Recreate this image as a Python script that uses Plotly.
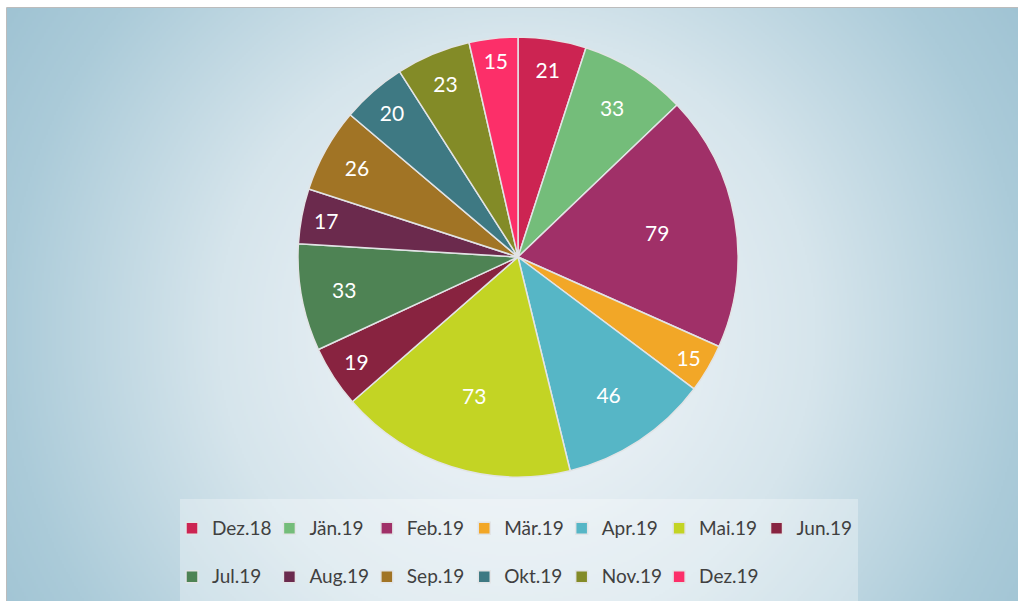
import base64
import struct
import zlib

import numpy as np
import plotly.graph_objects as go

# ---- data ----
months = ["Dez.18", "Jän.19", "Feb.19", "Mär.19", "Apr.19", "Mai.19", "Jun.19",
          "Jul.19", "Aug.19", "Sep.19", "Okt.19", "Nov.19", "Dez.19"]
counts = [21, 33, 79, 15, 46, 73, 19, 33, 17, 26, 20, 23, 15]
slice_colors = ["#cc2452", "#74bd7a", "#a03068", "#f2a727", "#56b6c6", "#c3d424", "#882340",
                "#4e8354", "#6b2a4d", "#a17425", "#3e7983", "#838b27", "#fc2f69"]

# ---- layout geometry (pixels) ----
W, H = 1018, 601
ML, MR, MT, MB = 153, 135, 37, 124
PW, PH = W - ML - MR, H - MT - MB


def px2x(px):
    return (px - ML) / PW


def py2y(py):
    return (H - MB - py) / PH


# ---- radial gradient background as an inline PNG ----
def make_png(arr):
    h, w, _ = arr.shape
    raw = b"".join(b"\x00" + arr[i].tobytes() for i in range(h))

    def chunk(t, d):
        return struct.pack(">I", len(d)) + t + d + struct.pack(">I", zlib.crc32(t + d) & 0xffffffff)

    return (b"\x89PNG\r\n\x1a\n"
            + chunk(b"IHDR", struct.pack(">IIBBBBB", w, h, 8, 2, 0, 0, 0))
            + chunk(b"IDAT", zlib.compress(raw, 9))
            + chunk(b"IEND", b""))


def hex2rgb(h):
    h = h.lstrip("#")
    return [int(h[i:i + 2], 16) for i in (0, 2, 4)]


bx0, by0 = 7, 8
gw, gh = (W - bx0) // 2, (H - by0) // 2
gx = bx0 + np.arange(gw) * 2
gy = by0 + np.arange(gh) * 2
XX, YY = np.meshgrid(gx, gy)
dist = np.sqrt((XX - 515.0) ** 2 + (YY - 330.0) ** 2)
stops = [0, 150, 300, 510, 640]
stop_cols = np.array([hex2rgb(c) for c in ["#eef4f8", "#e7eff4", "#d6e5ec", "#abcbd9", "#9bc0d1"]], float)
img = np.zeros((gh, gw, 3))
for k in range(3):
    img[:, :, k] = np.interp(dist, stops, stop_cols[:, k])
png = make_png(np.clip(img, 0, 255).astype(np.uint8))
bg_src = "data:image/png;base64," + base64.b64encode(png).decode()

legend_labels = ['<span style="font-size:19px;baseline-shift:7px">%s</span>' % m for m in months]

fig = go.Figure(go.Pie(
    labels=legend_labels,
    values=counts,
    text=[str(v) for v in counts],
    textinfo="text",
    sort=False,
    direction="clockwise",
    rotation=0,
    marker=dict(colors=slice_colors, line=dict(color="#e2e4e6", width=1.5)),
    textposition="inside",
    insidetextorientation="horizontal",
    textfont=dict(color="white", size=21, family="Lato"),
    hoverinfo="skip",
))

fig.update_layout(
    width=W, height=H,
    margin=dict(l=ML, r=MR, t=MT, b=MB, autoexpand=False),
    paper_bgcolor="white",
    plot_bgcolor="rgba(0,0,0,0)",
    font=dict(family="Lato", color="#404040"),
    images=[dict(source=bg_src, xref="paper", yref="paper",
                 x=px2x(bx0), y=py2y(by0), sizex=(W - bx0) / PW, sizey=(H - by0) / PH,
                 xanchor="left", yanchor="top", sizing="stretch", layer="below")],
    shapes=[dict(type="rect", xref="paper", yref="paper",
                 x0=px2x(6.5), x1=px2x(W + 5), y0=py2y(7.5), y1=py2y(H + 5),
                 line=dict(color="#bcbcbc", width=1), fillcolor="rgba(0,0,0,0)", layer="below")],
    legend=dict(orientation="h", x=px2x(519), xanchor="center", y=py2y(499), yanchor="top",
                bgcolor="rgba(255,255,255,0.3)", borderwidth=0, indentation=-8,
                font=dict(size=35, color="#404040", family="Lato"),
                itemclick=False, itemdoubleclick=False),
    showlegend=True,
)

fig.write_html("out.html", config={"displayModeBar": False},
               post_script="document.body.style.margin='0';document.body.style.overflow='hidden';")
